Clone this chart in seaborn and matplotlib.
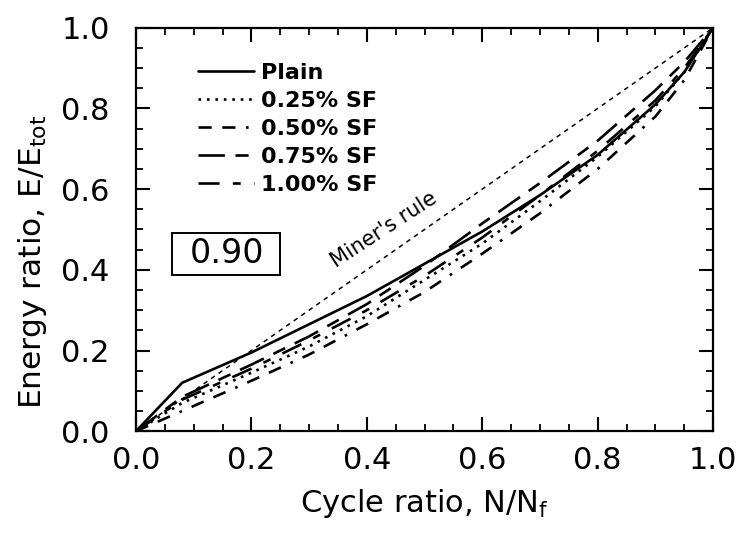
import matplotlib
matplotlib.use("Agg")
import matplotlib.pyplot as plt
import matplotlib.patches as mpatches
import seaborn as sns
import pandas as pd
from matplotlib.ticker import MultipleLocator, FormatStrFormatter

sns.set_theme(style="ticks")
plt.rcParams['font.family'] = ['DejaVu Sans']
plt.rcParams['mathtext.default'] = 'regular'
for k in ['text.color', 'axes.labelcolor', 'xtick.color', 'ytick.color', 'axes.edgecolor']:
    plt.rcParams[k] = 'black'

# Data
cycle_ratio = [0, 0.08, 0.2, 0.3, 0.4, 0.5, 0.6, 0.7, 0.8, 0.9, 0.95, 1.0]
plain = [0, 0.12, 0.195, 0.265, 0.335, 0.415, 0.495, 0.585, 0.685, 0.81, 0.89, 1.0]
sf025 = [0, 0.07, 0.145, 0.21, 0.285, 0.375, 0.465, 0.57, 0.68, 0.805, 0.89, 1.0]
sf050 = [0, 0.05, 0.125, 0.19, 0.265, 0.345, 0.44, 0.54, 0.65, 0.78, 0.87, 1.0]
sf075 = [0, 0.085, 0.165, 0.235, 0.315, 0.41, 0.515, 0.615, 0.72, 0.845, 0.915, 1.0]
sf100 = [0, 0.078, 0.155, 0.225, 0.30, 0.385, 0.48, 0.585, 0.695, 0.82, 0.90, 1.0]
miner_x = [0, 1.0]
miner_y = [0, 1.0]
series_labels = ["Plain", "0.25% SF", "0.50% SF", "0.75% SF", "1.00% SF"]
series_values = [plain, sf025, sf050, sf075, sf100]
styles = ['-', (0, (1, 2.2)), (0, (5, 4, 5, 4, 1, 4)), (0, (10, 4, 5, 4)), (0, (8, 5, 3, 5))]

fig = plt.figure(figsize=(7.39, 5.33), dpi=100)
ax = fig.add_axes([0.184, 0.191, 0.781, 0.757])

for lab, vals, ls in zip(series_labels, series_values, styles):
    df = pd.DataFrame({"x": cycle_ratio, "y": vals})
    sns.lineplot(data=df, x="x", y="y", ax=ax, color="black", linestyle=ls,
                 linewidth=1.9, label=lab)

sns.lineplot(x=miner_x, y=miner_y, ax=ax, color="black", linestyle=(0, (3, 3)),
             linewidth=1.1, legend=False)

ax.set_xlim(0, 1.0)
ax.set_ylim(0, 1.0)
ax.xaxis.set_major_locator(MultipleLocator(0.2))
ax.yaxis.set_major_locator(MultipleLocator(0.2))
ax.xaxis.set_minor_locator(MultipleLocator(0.05))
ax.yaxis.set_minor_locator(MultipleLocator(0.05))
ax.xaxis.set_major_formatter(FormatStrFormatter('%.1f'))
ax.yaxis.set_major_formatter(FormatStrFormatter('%.1f'))
ax.tick_params(which='both', direction='in', top=True, right=True, color='black',
               labelcolor='black')
ax.tick_params(which='major', length=10, width=1.5, labelsize=22)
ax.tick_params(axis='x', which='major', pad=11)
ax.tick_params(axis='y', which='major', pad=19)
ax.tick_params(which='minor', length=5, width=1.3)
for s in ax.spines.values():
    s.set_linewidth(1.6)
    s.set_color('black')

ax.set_xlabel("Cycle ratio, N/N$_f$", fontsize=22, labelpad=8)
ax.set_ylabel("Energy ratio, E/E$_{tot}$", fontsize=22.5)
ax.yaxis.set_label_coords(-0.15, 0.42)

leg = ax.legend(loc='upper left', bbox_to_anchor=(0.108, 0.913), frameon=False,
                handlelength=2.5, handletextpad=0.3, labelspacing=0.36,
                borderaxespad=0, borderpad=0,
                prop={'size': 16, 'weight': 'bold'})
for t in leg.get_texts():
    t.set_color('black')

ax.add_patch(mpatches.Rectangle((0.063, 0.387), 0.187, 0.104, transform=ax.transAxes,
                                facecolor='white', edgecolor='black', linewidth=1.4,
                                zorder=5))
ax.text(0.157, 0.44, "0.90", transform=ax.transAxes, fontsize=24,
        ha='center', va='center', zorder=6)

ax.text(0.43, 0.50, "Miner's rule", transform=ax.transData, fontsize=15,
        rotation=33, ha='center', va='center')

fig.savefig("out.png", dpi=100)
